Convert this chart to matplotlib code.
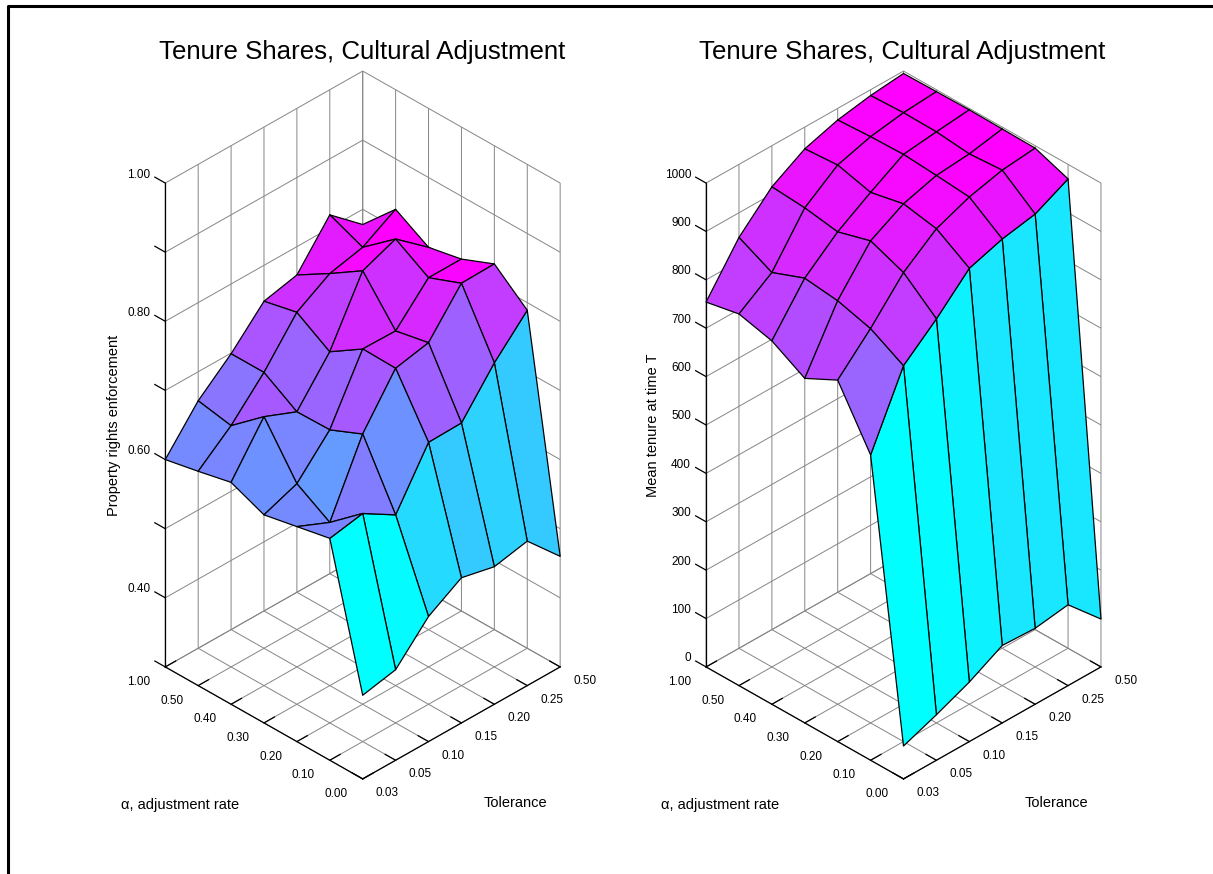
#!/usr/bin/env python3
import matplotlib

matplotlib.use("Agg")
import matplotlib.pyplot as plt
import numpy as np
from matplotlib.lines import Line2D
from mpl_toolkits.mplot3d import proj3d

plt.rcParams["font.family"] = ["Liberation Sans", "DejaVu Sans"]
plt.rcParams["grid.color"] = "#858585"
plt.rcParams["grid.linewidth"] = 0.7

tolerance_labels = ["0.03", "0.05", "0.10", "0.15", "0.20", "0.25", "0.50"]
alpha_labels = ["0.00", "0.10", "0.20", "0.30", "0.40", "0.50", "1.00"]

# rows follow tolerance, columns follow alpha
enforcement = np.array([
    [0.421, 0.621, 0.611, 0.601, 0.621, 0.610, 0.600],
    [0.431, 0.630, 0.590, 0.619, 0.689, 0.649, 0.658],
    [0.481, 0.601, 0.691, 0.670, 0.669, 0.699, 0.699],
    [0.510, 0.679, 0.759, 0.760, 0.729, 0.759, 0.748],
    [0.499, 0.680, 0.769, 0.759, 0.819, 0.788, 0.759],
    [0.509, 0.740, 0.828, 0.809, 0.838, 0.799, 0.819],
    [0.460, 0.789, 0.829, 0.809, 0.799, 0.827, 0.778],
])
mean_tenure = np.array([
    [68, 631, 747, 712, 751, 768, 754],
    [94, 777, 815, 834, 842, 815, 849],
    [123, 835, 892, 919, 899, 910, 915],
    [160, 901, 944, 957, 942, 960, 955],
    [157, 923, 971, 977, 982, 980, 976],
    [167, 936, 988, 983, 990, 991, 988],
    [99, 970, 995, 996, 997, 996, 995],
])

enforcement_ticks = [0.3, 0.4, 0.5, 0.6, 0.7, 0.8, 0.9, 1.0]
enforcement_tick_labels = ["", "0.40", "", "0.60", "", "0.80", "", "1.00"]
tenure_ticks = list(range(0, 1001, 100))
tenure_tick_labels = [str(t) for t in tenure_ticks]

width_px, height_px = 1213, 874
axes_px = 859.0
view_zoom = 0.8


def px(x, y):
    return x / width_px, 1 - y / height_px


def label_at(ax, x, y, z, label, ha):
    x2, y2, _ = proj3d.proj_transform(x, y, z, ax.get_proj())
    ax.text2D(x2, y2, label, transform=ax.transData, ha=ha, va="center", fontsize=8.5)


def draw_panel(fig, center_x, values, zticks, zticklabels, zlabel, zlabel_xy):
    left = center_x - 0.5135 * axes_px
    bottom = 425 + 0.5135 * axes_px
    x0, y0 = px(left, bottom)
    ax = fig.add_axes(
        [x0, y0, axes_px / width_px, axes_px / height_px],
        projection="3d",
        proj_type="ortho",
    )
    ax.set_facecolor("none")
    ax.view_init(elev=34.55, azim=-135)
    ax.set_box_aspect((1, 1, 2.104), zoom=view_zoom)

    idx = np.arange(len(tolerance_labels))
    x, y = np.meshgrid(idx, idx, indexing="ij")
    norm = plt.Normalize(values.min(), values.max())
    colors = plt.get_cmap("cool", 64)(norm(values))
    ax.plot_surface(
        x, y, values,
        rstride=1, cstride=1,
        facecolors=colors,
        edgecolor="black",
        linewidth=0.9,
        shade=False,
    )

    ax.set_xlim(0, 6, view_margin=0)
    ax.set_ylim(0, 6, view_margin=0)
    ax.set_zlim(zticks[0], zticks[-1], view_margin=0)
    ax.set_xticks(idx)
    ax.set_yticks(idx)
    ax.set_zticks(zticks)
    ax.zaxis.set_ticks_position("upper")
    # z ticks should point back along the alpha direction
    ax.zaxis._get_tickdir = lambda pos: 1

    for axis in (ax.xaxis, ax.yaxis, ax.zaxis):
        axis.set_pane_color((1, 1, 1, 0))
        axis.pane.set_edgecolor("none")
        axis.line.set_color("black")
        axis.line.set_linewidth(0.9)
        axis._axinfo["tick"]["inward_factor"] = 0
        axis._axinfo["tick"]["outward_factor"] = 0.66
        axis._axinfo["tick"]["linewidth"] = {True: 0.9, False: 0.9}
        axis.set_major_formatter(matplotlib.ticker.NullFormatter())
        axis.label.set_visible(False)
        axis.offsetText.set_visible(False)
        for tick in axis.get_major_ticks():
            tick.label1.set_visible(False)
            tick.label2.set_visible(False)

    # tick labels placed by hand, the automatic ones slide down with the z range
    for i, label in zip(idx, tolerance_labels):
        label_at(ax, i, -0.75, zticks[0], label, "center")
    for j, label in zip(idx, alpha_labels):
        label_at(ax, -0.8, j, zticks[0], label, "center")
    for z, label in zip(zticks, zticklabels):
        if label:
            label_at(ax, 0, 6.456, z, label, "right")

    title_x, title_y = px(center_x - 1, 52)
    fig.text(title_x, title_y, "Tenure Shares, Cultural Adjustment",
             ha="center", va="center", fontsize=18.6)
    tx, ty = px(center_x + 153, 803)
    fig.text(tx, ty, "Tolerance", ha="center", va="center", fontsize=10.5)
    ax_x, ax_y = px(center_x - 183, 805)
    fig.text(ax_x, ax_y, "α, adjustment rate", ha="center", va="center", fontsize=10.5)
    lx, ly = px(*zlabel_xy)
    fig.text(lx, ly, zlabel, rotation=90, ha="center", va="center", fontsize=10.5)
    return ax


fig = plt.figure(figsize=(width_px / 100, height_px / 100), dpi=100)

draw_panel(fig, 362.7, enforcement, enforcement_ticks, enforcement_tick_labels,
           "Property rights enforcement", (114, 425))
draw_panel(fig, 903.5, mean_tenure, tenure_ticks, tenure_tick_labels,
           "Mean tenure at time T", (653, 425))

# frame left over from the pasted page
fig.add_artist(Line2D([8 / width_px, 8 / width_px, 1], [0, 1 - 5.5 / height_px, 1 - 5.5 / height_px],
                      color="black", linewidth=2.2, transform=fig.transFigure))

fig.savefig("out.png", dpi=100)
